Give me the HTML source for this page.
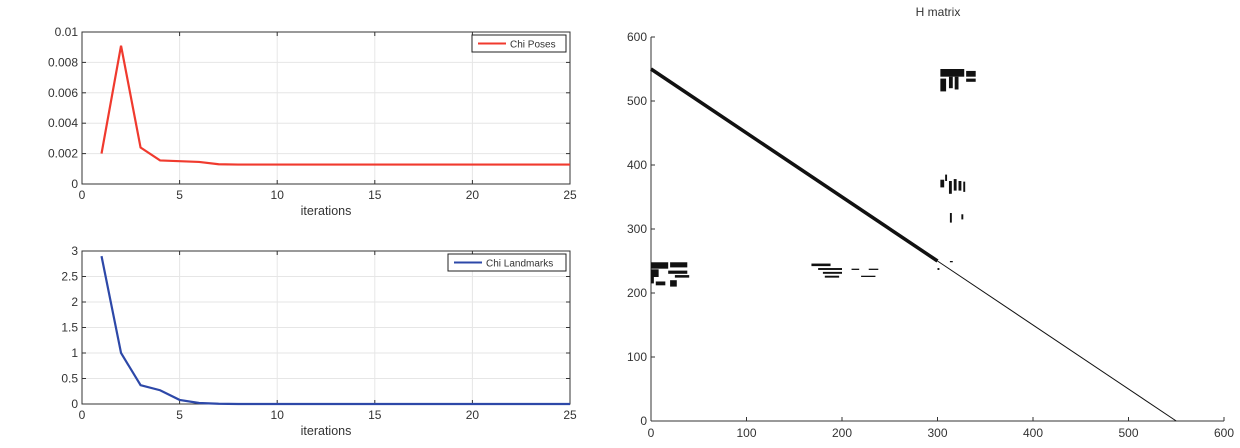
<!DOCTYPE html>
<html><head><meta charset="utf-8"><style>
body{margin:0;background:#fff;width:1240px;height:443px;overflow:hidden;font-family:"Liberation Sans",sans-serif}
svg text{font-family:"Liberation Sans",sans-serif;fill:#333}
</style></head><body>
<svg id="s" width="1240" height="443"></svg>
<script>
const iters=[1,2,3,4,5,6,7,8,9,10,11,12,13,14,15,16,17,18,19,20,21,22,23,24,25];
const chiPoses=[0.002,0.0091,0.0024,0.00155,0.0015,0.00145,0.0013,0.00128,0.00128,0.00128,0.00128,0.00128,0.00128,0.00128,0.00128,0.00128,0.00128,0.00128,0.00128,0.00128,0.00128,0.00128,0.00128,0.00128,0.00128];
const chiLandmarks=[2.9,1.0,0.37,0.27,0.08,0.02,0.005,0,0,0,0,0,0,0,0,0,0,0,0,0,0,0,0,0,0];
const xTicks=[0,5,10,15,20,25];
const poseTicks=[0,0.002,0.004,0.006,0.008,0.01];
const poseTickLabels=["0","0.002","0.004","0.006","0.008","0.01"];
const lmTicks=[0,0.5,1,1.5,2,2.5,3];
const lmTickLabels=["0","0.5","1","1.5","2","2.5","3"];
const hTicks=[0,100,200,300,400,500,600];
const diagEnd=550, diagThickTo=300;
// [x, y, w, h] in matrix units
const hBlocks=[[303,538,25,12],[330,538,10,9],[303,515,6,20],[312,520,4,18],[318,518,4,20],[330,530,10,5],[340,540,0,0],
[303,365,4,12],[308,375,2,10],[312,355,3,20],[317,360,3,18],[322,360,3,15],[327,358,2,16],[313,310,2,15],[325,315,2,8],
[0,238,18,10],[0,225,8,12],[20,240,18,8],[18,230,20,5],[25,224,15,4],[5,212,10,6],[20,210,7,10],[0,215,3,20],
[168,242,20,4],[175,236,25,3],[180,230,20,3],[182,224,15,3],[210,236,8,2],[228,236,10,2],[220,225,15,2],[300,236,2,3],[313,248,3,2]];
const s=document.getElementById('s');const NS='http://www.w3.org/2000/svg';
function mk(t,a,p){const e=document.createElementNS(NS,t);for(const k in a)e.setAttribute(k,a[k]);(p||s).appendChild(e);return e;}
function lineChart(name,top,bot,ymax,ticks,labels,vals,color,legend,lx){
 const x0=82,x1=570;const X=v=>x0+(v/25)*(x1-x0);const Y=v=>bot-(v/ymax)*(bot-top);
 const g=mk('g',{});
 xTicks.forEach(t=>{mk('line',{x1:X(t),x2:X(t),y1:top,y2:bot,stroke:'#e6e6e6'},g);
  mk('line',{x1:X(t),x2:X(t),y1:bot,y2:bot-4,stroke:'#333'},g);mk('line',{x1:X(t),x2:X(t),y1:top,y2:top+4,stroke:'#333'},g);
  const tx=mk('text',{x:X(t),y:bot+15,'text-anchor':'middle','font-size':12},g);tx.textContent=t;});
 ticks.forEach((t,i)=>{mk('line',{x1:x0,x2:x1,y1:Y(t),y2:Y(t),stroke:'#e6e6e6'},g);
  mk('line',{x1:x0,x2:x0+4,y1:Y(t),y2:Y(t),stroke:'#333'},g);mk('line',{x1:x1,x2:x1-4,y1:Y(t),y2:Y(t),stroke:'#333'},g);
  const tx=mk('text',{x:x0-4,y:Y(t)+4,'text-anchor':'end','font-size':12},g);tx.textContent=labels[i];});
 const fr=mk('rect',{x:x0,y:top,width:x1-x0,height:bot-top,fill:'none',stroke:'#333'},g);
 const pl=mk('polyline',{points:vals.map((v,i)=>X(iters[i])+','+Y(v)).join(' '),fill:'none',stroke:color,'stroke-width':2.2},g);
 const xl=mk('text',{x:(x0+x1)/2,y:bot+31,'text-anchor':'middle','font-size':12.5},g);xl.textContent='iterations';
 const lg=mk('g',{},g);
 mk('rect',{x:lx,y:top+3,width:566-lx,height:17,fill:'#fff',stroke:'#222'},lg);
 mk('line',{x1:lx+6,x2:lx+34,y1:top+11.5,y2:top+11.5,stroke:color,'stroke-width':2},lg);
 const lt=mk('text',{x:lx+38,y:top+15.5,'font-size':10},lg);lt.textContent=legend;
}
lineChart('chi-poses-chart',32,184,0.01,poseTicks,poseTickLabels,chiPoses,'#f03a2e','Chi Poses',472);
lineChart('chi-landmarks-chart',251,404,3,lmTicks,lmTickLabels,chiLandmarks,'#2d48a8','Chi Landmarks',448);
// H matrix
(function(){const x0=651,x1=1224,yb=421,yt=37;const X=v=>x0+v/600*(x1-x0);const Y=v=>yb-v/600*(yb-yt);
 const g=mk('g',{});
 const t=mk('text',{x:938,y:16,'text-anchor':'middle','font-size':12},g);t.textContent='H matrix';
 mk('line',{x1:x0,x2:x1,y1:yb,y2:yb,stroke:'#333'},g);mk('line',{x1:x0,x2:x0,y1:yb,y2:yt,stroke:'#333'},g);
 hTicks.forEach(v=>{mk('line',{x1:X(v),x2:X(v),y1:yb,y2:yb-4,stroke:'#333'},g);mk('line',{x1:x0,x2:x0+4,y1:Y(v),y2:Y(v),stroke:'#333'},g);
  const a=mk('text',{x:X(v),y:yb+16,'text-anchor':'middle','font-size':12},g);a.textContent=v;
  const b=mk('text',{x:x0-4,y:Y(v)+4,'text-anchor':'end','font-size':12},g);b.textContent=v;});
 const d1=mk('line',{x1:X(0),y1:Y(diagEnd),x2:X(diagThickTo),y2:Y(diagEnd-diagThickTo),stroke:'#111','stroke-width':3.5},g);
 const d2=mk('line',{x1:X(diagThickTo),y1:Y(diagEnd-diagThickTo),x2:X(diagEnd),y2:Y(0),stroke:'#111','stroke-width':1},g);
 hBlocks.forEach(b=>{const r=mk('rect',{x:X(b[0]),y:Y(b[1]+b[3]),width:X(b[0]+b[2])-X(b[0]),height:Y(b[1])-Y(b[1]+b[3]),fill:'#111'},g);});
})();
</script>
</body></html>
